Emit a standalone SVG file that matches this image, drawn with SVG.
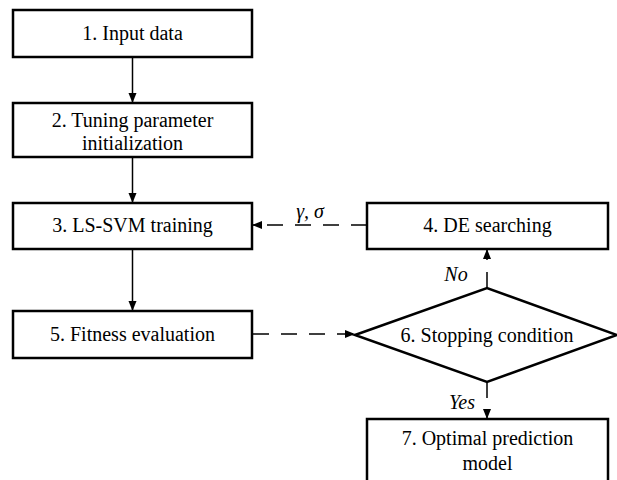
<svg xmlns="http://www.w3.org/2000/svg" width="617" height="480" viewBox="0 0 617 480">
<style>
.box{fill:#fff;stroke:#000;stroke-width:2.5}
.t{font-family:"Liberation Serif","Times New Roman",serif;font-size:20px;fill:#000;text-anchor:middle}
.i{font-style:italic}
.c{fill:none;stroke:#000;stroke-width:1.5}
.d{stroke-dasharray:16 12}
</style>
<defs>
<marker id="ah" markerWidth="10" markerHeight="10" refX="9" refY="5" orient="auto" markerUnits="userSpaceOnUse">
<path d="M0,1 L10,5 L0,9 Z" fill="#000"/>
</marker>
</defs>
<rect width="617" height="480" fill="#fff"/>
<g id="connectors">
<line class="c" x1="132.5" y1="57" x2="132.5" y2="102" marker-end="url(#ah)"/>
<line class="c" x1="132.5" y1="157" x2="132.5" y2="202" marker-end="url(#ah)"/>
<line class="c" x1="132.5" y1="249" x2="132.5" y2="310" marker-end="url(#ah)"/>
<line class="c d" x1="367" y1="225" x2="253" y2="225" marker-end="url(#ah)"/>
<line class="c d" x1="253" y1="334" x2="354" y2="334" marker-end="url(#ah)"/>
<line class="c d" x1="487" y1="288" x2="487" y2="250" marker-end="url(#ah)"/>
<line class="c d" x1="487" y1="382" x2="487" y2="418" marker-end="url(#ah)"/>
<text class="t i" x="310" y="218">γ, σ</text>
<text class="t i" x="456" y="281">No</text>
<text class="t i" x="462" y="409">Yes</text>
</g>
<g id="n1"><rect class="box" x="13" y="10" width="239" height="47"/><text class="t" x="132.5" y="40">1. Input data</text></g>
<g id="n2"><rect class="box" x="13" y="103" width="239" height="54"/><text class="t" x="132.5" y="127">2. Tuning parameter</text><text class="t" x="132.5" y="150">initialization</text></g>
<g id="n3"><rect class="box" x="13" y="203" width="239" height="46"/><text class="t" x="132.5" y="232">3. LS-SVM training</text></g>
<g id="n4"><rect class="box" x="367" y="203" width="241" height="46"/><text class="t" x="487.5" y="232">4. DE searching</text></g>
<g id="n5"><rect class="box" x="13" y="311" width="239" height="47"/><text class="t" x="132.5" y="341">5. Fitness evaluation</text></g>
<g id="n6"><polygon class="box" points="355,335 487,288 617,335 487,382"/><text class="t" x="487" y="342">6. Stopping condition</text></g>
<g id="n7"><rect class="box" x="367" y="419" width="241" height="66"/><text class="t" x="487.5" y="445">7. Optimal prediction</text><text class="t" x="487.5" y="470">model</text></g>
</svg>
